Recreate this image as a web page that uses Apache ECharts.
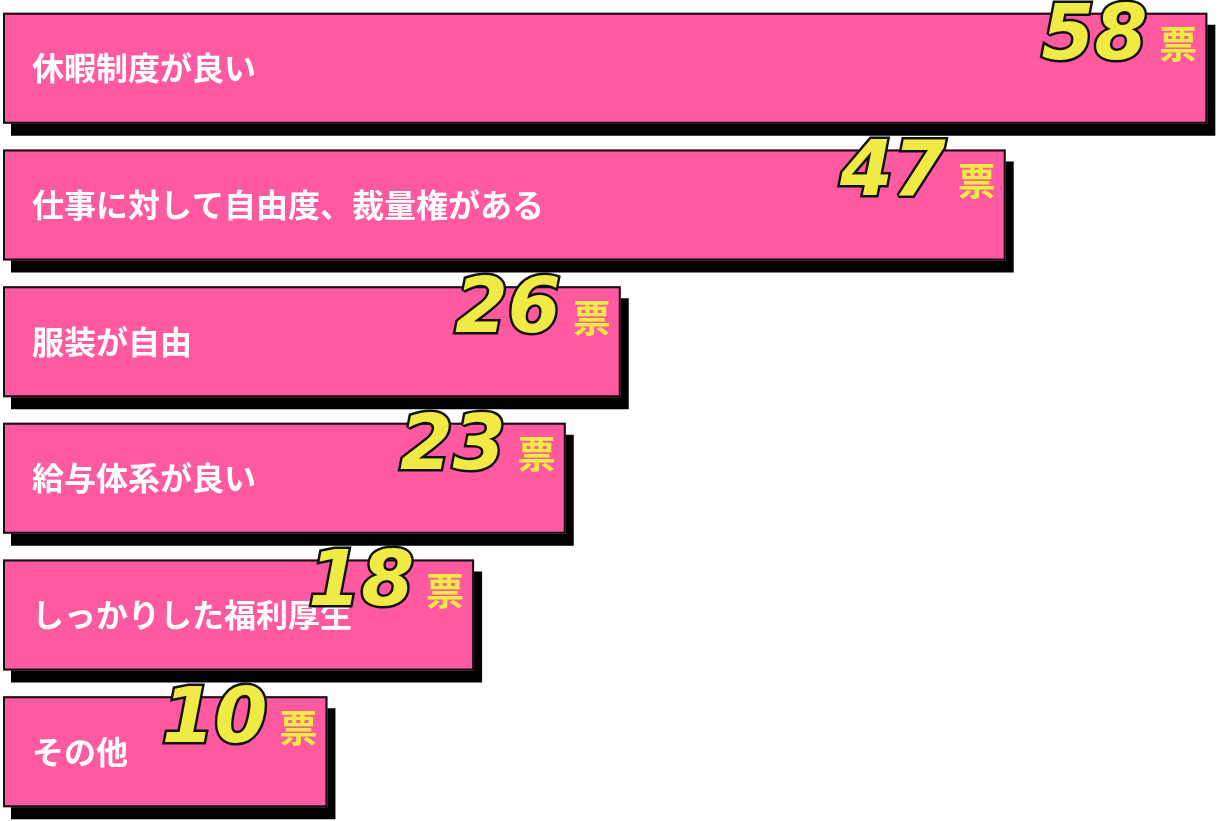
<!DOCTYPE html>
<html>
<head>
<meta charset="utf-8">
<script src="https://cdn.jsdelivr.net/npm/echarts@6/dist/echarts.min.js"></script>
<style>
  html, body { margin: 0; padding: 0; background: #fff; }
  #chart { width: 1220px; height: 821px; }
</style>
</head>
<body>
<div id="chart"></div>
<script>
// reasons, top to bottom
var categories = [
  '休暇制度が良い',
  '仕事に対して自由度、裁量権がある',
  '服装が自由',
  '給与体系が良い',
  'しっかりした福利厚生',
  'その他'
];
var votes = [58, 47, 26, 23, 18, 10];
var unit = '票';

var pink = '#FF599F';
var yellow = '#F0EA44';
var ink = '#111111';

var ele = document.getElementById('chart');
var ins = echarts.init(ele);

var option = {
  animation: false,
  grid: { left: 3, right: 9, top: 0, bottom: 1 },
  xAxis: {
    type: 'value',
    min: -7.7,
    max: 58.2,
    startValue: -7.7,
    show: false
  },
  yAxis: {
    type: 'category',
    inverse: true,
    data: categories,
    show: false
  },
  series: [
    // pink fill + hard black drop shadow, category name inside
    {
      type: 'bar',
      data: votes,
      barWidth: 111,
      itemStyle: {
        color: pink,
        shadowColor: '#000',
        shadowBlur: 0,
        shadowOffsetX: 8,
        shadowOffsetY: 12
      },
      label: {
        show: true,
        position: 'insideLeft',
        distance: 29,
        formatter: function (p) { return categories[p.dataIndex]; },
        color: '#fff',
        fontSize: 32,
        fontWeight: 'bold',
        fontFamily: '"Noto Sans CJK JP", sans-serif'
      }
    },
    // outline on top, vote count
    {
      type: 'bar',
      data: votes,
      barWidth: 111,
      barGap: '-100%',
      silent: true,
      z: 5,
      itemStyle: { color: 'transparent', borderColor: ink, borderWidth: 2 },
      label: {
        show: true,
        position: 'insideTopRight',
        distance: 0,
        offset: [-10, -2],
        formatter: '{n|{c}}{u|' + unit + '}',
        rich: {
          n: {
            fontFamily: '"DejaVu Sans", sans-serif',
            fontWeight: 'bold',
            fontStyle: 'italic',
            fontSize: 76,
            lineHeight: 66,
            color: yellow,
            textBorderColor: ink,
            textBorderWidth: 5,
            textShadowColor: ink,
            textShadowBlur: 0,
            textShadowOffsetX: -4,
            textShadowOffsetY: 5,
            verticalAlign: 'bottom'
          },
          u: {
            fontFamily: '"Noto Sans CJK JP", sans-serif',
            fontWeight: 'bold',
            fontSize: 38,
            lineHeight: 44,
            color: yellow,
            padding: [0, 0, 14, 12],
            verticalAlign: 'bottom'
          }
        }
      }
    }
  ]
};

ins.setOption(option);
</script>
</body>
</html>
